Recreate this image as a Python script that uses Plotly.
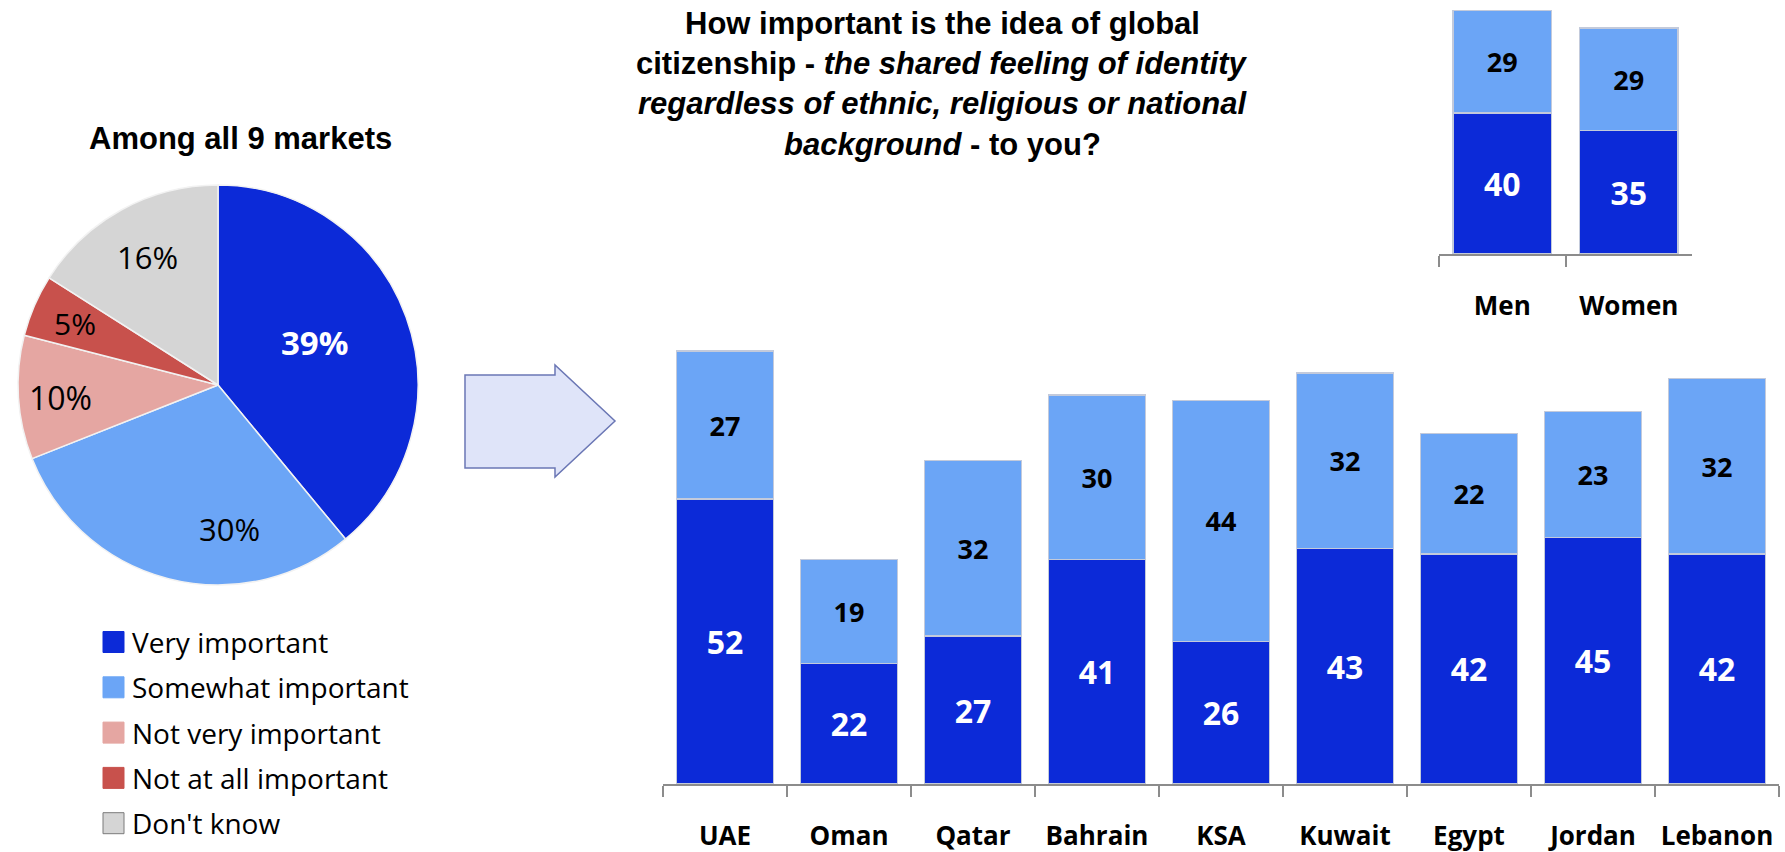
import math
import plotly.graph_objects as go

W, H = 1785, 852

# Overall distribution (pie)
pie_labels = ["Very important", "Somewhat important", "Not very important",
              "Not at all important", "Don't know"]
pie_values = [39, 30, 10, 5, 16]

# By market (stacked bars)
markets = ["UAE", "Oman", "Qatar", "Bahrain", "KSA", "Kuwait", "Egypt", "Jordan", "Lebanon"]
very_market = [52, 22, 27, 41, 26, 43, 42, 45, 42]
somewhat_market = [27, 19, 32, 30, 44, 32, 22, 23, 32]

# By gender (stacked bars)
genders = ["Men", "Women"]
very_gender = [40, 35]
somewhat_gender = [29, 29]

DARK_BLUE = "#0c2ad8"
LIGHT_BLUE = "#6ba5f6"
PIE_COLORS = [DARK_BLUE, LIGHT_BLUE, "#e5a6a2", "#c8514c", "#d5d5d5"]
PIE_TEXT_COLORS = ["white", "black", "black", "black", "black"]
PIE_TEXT_SIZES = [33, 31, 32, 30, 31]
PIE_TEXT_BOLD = [True, False, False, False, False]
# label placement inside each slice: fraction of radius and angular nudge (deg)
PIE_LABEL_RADIUS = [0.53, 0.72, 0.79, 0.78, 0.73]
PIE_LABEL_NUDGE = [-4, -19, -1, 0, 0]

FONT = "'Open Sans', Lato, sans-serif"
TITLE_FONT = "'Liberation Sans', Arial, sans-serif"

# pie geometry in pixels
PIE_CX, PIE_CY, PIE_R = 218, 385, 200


def px(x):
    return x / W


def py(y):
    return 1 - y / H


fig = go.Figure()

# Pie
fig.add_trace(go.Pie(
    labels=pie_labels, values=pie_values, sort=False, direction="clockwise",
    rotation=0,
    marker=dict(colors=PIE_COLORS, line=dict(color="#f2f2f2", width=1.5)),
    textinfo="none",
    domain=dict(x=[px(PIE_CX - PIE_R), px(PIE_CX + PIE_R)],
                y=[py(PIE_CY + PIE_R), py(PIE_CY - PIE_R)]),
    showlegend=False, hoverinfo="label+percent",
))

bar_line = dict(color="#c3cadb", width=1.5)


def bar_trace(x, y, name, color, text_color, size, xa, ya):
    return go.Bar(
        x=x, y=y, name=name, marker=dict(color=color, line=bar_line),
        text=y, texttemplate="<b>%{text}</b>", textposition="inside",
        insidetextanchor="middle", textangle=0, constraintext="none",
        textfont=dict(family=FONT, size=size, color=text_color),
        xaxis=xa, yaxis=ya, showlegend=False,
    )


fig.add_trace(bar_trace(markets, very_market, "Very important", DARK_BLUE, "white", 32, "x", "y"))
fig.add_trace(bar_trace(markets, somewhat_market, "Somewhat important", LIGHT_BLUE, "black", 27, "x", "y"))
fig.add_trace(bar_trace(genders, very_gender, "Very important", DARK_BLUE, "white", 32, "x2", "y2"))
fig.add_trace(bar_trace(genders, somewhat_gender, "Somewhat important", LIGHT_BLUE, "black", 27, "x2", "y2"))

cat_axis = dict(
    type="category", showline=True, linecolor="#8c8c8c", linewidth=1.5,
    ticks="outside", tickson="boundaries", ticklen=11, tickcolor="#8c8c8c", tickwidth=1.5,
    tickfont=dict(family=FONT, size=26, color="black", weight="bold"),
    tickangle=0, automargin=False,
    ticklabelstandoff=28, showgrid=False, zeroline=False, fixedrange=True,
)
val_axis = dict(visible=False, showgrid=False, zeroline=False, fixedrange=True, automargin=False)

fig.update_layout(
    width=W, height=H, margin=dict(l=0, r=0, t=0, b=0, autoexpand=False),
    paper_bgcolor="white", plot_bgcolor="white",
    barmode="stack", bargap=0.22,
    xaxis=dict(domain=[px(663), px(1779)], anchor="y", **cat_axis),
    yaxis=dict(domain=[py(784), py(784 - 80 * 5.48)], range=[0, 80], anchor="x", **val_axis),
    xaxis2=dict(domain=[px(1439), px(1692)], anchor="y2", **cat_axis),
    yaxis2=dict(domain=[py(254), py(254 - 70 * 3.53)], range=[0, 70], anchor="x2", **val_axis),
    showlegend=False,
)

annotations = []

# Pie slice labels, placed at each slice's angle (clockwise from 12 o'clock)
total = sum(pie_values)
start = 0.0
for i, v in enumerate(pie_values):
    sweep = 360.0 * v / total
    ang = math.radians(start + sweep / 2 + PIE_LABEL_NUDGE[i])
    rr = PIE_R * PIE_LABEL_RADIUS[i]
    lx = PIE_CX + rr * math.sin(ang)
    ly = PIE_CY - rr * math.cos(ang)
    txt = f"{v}%"
    if PIE_TEXT_BOLD[i]:
        txt = f"<b>{txt}</b>"
    annotations.append(dict(
        text=txt, xref="paper", yref="paper", x=px(lx), y=py(ly),
        xanchor="center", yanchor="middle", showarrow=False,
        font=dict(family=FONT, size=PIE_TEXT_SIZES[i], color=PIE_TEXT_COLORS[i]),
    ))
    start += sweep

# Headline question, one annotation per line for exact line spacing
title_lines = [
    "<b>How important is the idea of global</b>",
    "<b>citizenship - <i>the shared feeling of identity</i></b>",
    "<b><i>regardless of ethnic, religious or national</i></b>",
    "<b><i>background</i> - to you?</b>",
]
for i, line in enumerate(title_lines):
    annotations.append(dict(
        text=line, xref="paper", yref="paper", x=px(942), y=py(23 + 40.5 * i),
        xanchor="center", yanchor="middle", showarrow=False,
        font=dict(family=TITLE_FONT, size=31, color="black"),
    ))

annotations.append(dict(
    text="<b>Among all 9 markets</b>", xref="paper", yref="paper", x=px(240), y=py(138),
    xanchor="center", yanchor="middle", showarrow=False,
    font=dict(family=TITLE_FONT, size=31, color="black"),
))

# Legend for the pie categories
shapes = []
legend_top = 642
legend_step = 45.3
for i, (lab, col) in enumerate(zip(pie_labels, PIE_COLORS)):
    yc = legend_top + legend_step * i
    shapes.append(dict(
        type="rect", xref="paper", yref="paper",
        x0=px(103), x1=px(124), y0=py(yc + 10.5), y1=py(yc - 10.5),
        fillcolor=col, line=dict(color="#7a7a7a" if i == 4 else col, width=1),
    ))
    annotations.append(dict(
        text=lab, xref="paper", yref="paper", x=px(130), y=py(yc),
        xanchor="left", yanchor="middle", showarrow=False,
        font=dict(family=FONT, size=28, color="black"),
    ))

# Arrow pointing from the pie to the market breakdown
arrow_pts = [(465, 375), (555, 375), (555, 365), (615, 421), (555, 477), (555, 468), (465, 468)]
path = "M " + " L ".join(f"{px(x):.5f},{py(y):.5f}" for x, y in arrow_pts) + " Z"
shapes.append(dict(
    type="path", xref="paper", yref="paper", path=path,
    fillcolor="#dfe4f9", line=dict(color="#6b77b5", width=1.5),
))

fig.update_layout(annotations=annotations, shapes=shapes)

fig.write_html("out.html")
